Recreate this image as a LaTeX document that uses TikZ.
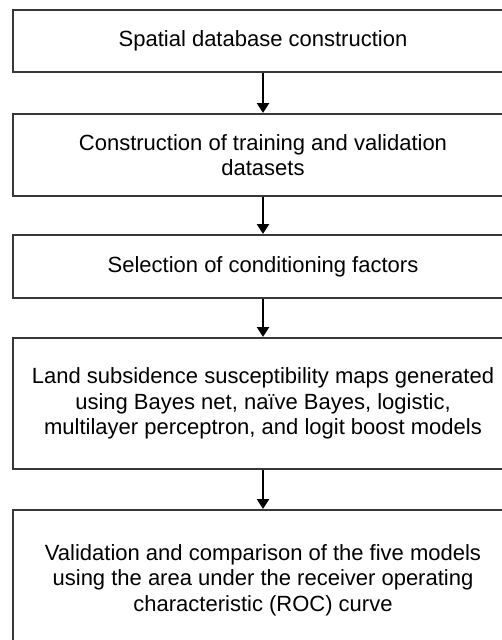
\documentclass[tikz,border=0pt]{standalone}
\usepackage{fontspec}
\setmainfont{Liberation Sans}
\usetikzlibrary{arrows.meta}
\begin{document}
\begin{tikzpicture}[x=1pt,y=-1pt,
  stepbox/.style={draw=black!78, line width=2pt, minimum width=500pt, align=center,
    font=\fontsize{22}{25.3}\selectfont, inner sep=0pt},
  flow/.style={line width=2.6pt, -{Triangle[length=10pt,width=12pt]}}]
\useasboundingbox (0,0) rectangle (502,640);
\clip (0,0) rectangle (502,640);
\node[stepbox, minimum height=62pt] (b1) at (263,41) {Spatial database construction};
\node[stepbox, minimum height=82pt] (b2) at (263,155) {Construction of training and validation\\datasets};
\node[stepbox, minimum height=63pt] (b3) at (263,266.5) {Selection of conditioning factors};
\node[stepbox, minimum height=131pt] (b4) at (263,403.5) {Land subsidence susceptibility maps generated\\using Bayes net, naïve Bayes, logistic,\\multilayer perceptron, and logit boost models};
\node[stepbox, minimum height=140pt] (b5) at (263,580) {Validation and comparison of the five models\\using the area under the receiver operating\\characteristic (ROC) curve};
\draw[flow] (b1) -- (b2);
\draw[flow] (b2) -- (b3);
\draw[flow] (b3) -- (b4);
\draw[flow] (b4) -- (b5);
\end{tikzpicture}
\end{document}
